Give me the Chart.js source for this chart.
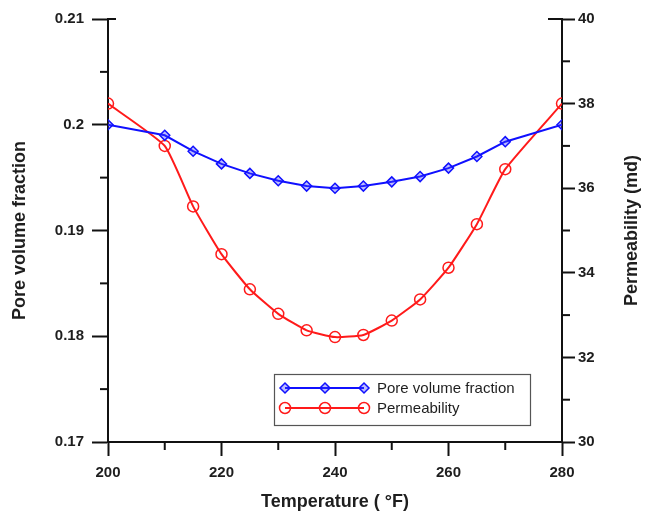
<!DOCTYPE html>
<html>
<head>
<meta charset="utf-8">
<script src="https://cdn.jsdelivr.net/npm/chart.js@4/dist/chart.umd.min.js"></script>
<style>
  html, body { margin: 0; padding: 0; background: #ffffff; }
  #wrap { width: 645px; height: 514px; }
</style>
</head>
<body>
<div id="wrap"><canvas id="c" width="645" height="514"></canvas></div>
<script>
// ---- data ----
const temperature = [200, 210, 215, 220, 225, 230, 235, 240, 245, 250, 255, 260, 265, 270, 280];
const poreVolume = [0.2000, 0.1990, 0.1975, 0.1963, 0.1954, 0.1947, 0.1942, 0.1940, 0.1942, 0.1946, 0.1951, 0.1959, 0.1970, 0.1984, 0.2000];
const permeability = [38.0, 37.0, 35.57, 34.44, 33.61, 33.03, 32.64, 32.48, 32.53, 32.87, 33.37, 34.12, 35.15, 36.45, 38.0];
const seriesLabels = ['Pore volume fraction', 'Permeability'];
const xTickLabels = [200, 220, 240, 260, 280];
const leftTickLabels = ['0.17', '0.18', '0.19', '0.2', '0.21'];
const rightTickLabels = [30, 32, 34, 36, 38, 40];
const xTitle = 'Temperature ( \u00B0F)';
const leftTitle = 'Pore volume fraction';
const rightTitle = 'Permeability (md)';

const BLUE = '#1010ff';
const RED = '#ff1a1a';
const AXIS = '#111111';
const TXT = '#1e1e1e';
const FONT = '"Liberation Sans", Arial, sans-serif';

function isMajorX(v) { return xTickLabels.some(t => Math.abs(t - v) < 1e-6); }
function isMajorL(v) { return leftTickLabels.some(t => Math.abs(parseFloat(t) - v) < 1e-6); }
function isMajorR(v) { return rightTickLabels.some(t => Math.abs(t - v) < 1e-6); }

const extras = {
  id: 'extras',
  afterDraw(chart) {
    const ctx = chart.ctx;
    const area = chart.chartArea;
    const sx = chart.scales.x, sy = chart.scales.y, sr = chart.scales.y1;
    ctx.save();
    ctx.strokeStyle = AXIS;
    ctx.lineWidth = 2;
    // minor ticks
    sx.ticks.forEach(t => {
      if (!isMajorX(t.value)) {
        const px = sx.getPixelForValue(t.value);
        ctx.beginPath(); ctx.moveTo(px, area.bottom); ctx.lineTo(px, area.bottom + 8); ctx.stroke();
      }
    });
    sy.ticks.forEach(t => {
      if (!isMajorL(t.value)) {
        const py = sy.getPixelForValue(t.value);
        ctx.beginPath(); ctx.moveTo(area.left, py); ctx.lineTo(area.left - 8, py); ctx.stroke();
      }
    });
    sr.ticks.forEach(t => {
      if (!isMajorR(t.value)) {
        const py = sr.getPixelForValue(t.value);
        ctx.beginPath(); ctx.moveTo(area.right, py); ctx.lineTo(area.right + 8, py); ctx.stroke();
      }
    });
    // top stubs
    ctx.beginPath(); ctx.moveTo(area.left, area.top); ctx.lineTo(area.left + 8, area.top); ctx.stroke();
    ctx.beginPath(); ctx.moveTo(area.right, area.top); ctx.lineTo(area.right - 14, area.top); ctx.stroke();

    // right title (reads bottom to top)
    ctx.fillStyle = TXT;
    ctx.font = 'bold 18px ' + FONT;
    ctx.textAlign = 'center';
    ctx.textBaseline = 'middle';
    ctx.translate(632, (area.top + area.bottom) / 2);
    ctx.rotate(-Math.PI / 2);
    ctx.fillText(rightTitle, 0, 0);
    ctx.restore();

    // legend box
    ctx.save();
    const bx = 274.5, by = 374.5, bw = 256, bh = 51;
    ctx.strokeStyle = '#555555';
    ctx.lineWidth = 1.2;
    ctx.fillStyle = '#ffffff';
    ctx.fillRect(bx, by, bw, bh);
    ctx.strokeRect(bx, by, bw, bh);
    const rows = [388, 408];
    chart.data.datasets.forEach((ds, i) => {
      const y = rows[i];
      ctx.strokeStyle = ds.borderColor;
      ctx.lineWidth = 2;
      ctx.beginPath(); ctx.moveTo(285, y); ctx.lineTo(364, y); ctx.stroke();
      [285, 325, 364].forEach(mx => {
        ctx.fillStyle = ds.pointBackgroundColor;
        ctx.strokeStyle = ds.pointBorderColor;
        ctx.lineWidth = ds.pointBorderWidth;
        Chart.helpers.drawPoint(ctx, {
          pointStyle: ds.pointStyle, radius: ds.pointRadius, rotation: 0, borderWidth: ds.pointBorderWidth
        }, mx, y);
      });
      ctx.fillStyle = TXT;
      ctx.font = '15px ' + FONT;
      ctx.textAlign = 'left';
      ctx.textBaseline = 'middle';
      ctx.fillText(ds.label, 377, y + 1);
    });
    ctx.restore();
  }
};

const ctxEl = document.getElementById('c');
new Chart(ctxEl, {
  type: 'line',
  data: {
    datasets: [
      {
        label: seriesLabels[0],
        data: temperature.map((t, i) => ({ x: t, y: poreVolume[i] })),
        yAxisID: 'y',
        borderColor: BLUE,
        backgroundColor: BLUE,
        borderWidth: 2,
        pointStyle: 'rectRot',
        pointRadius: 5,
        pointBorderWidth: 1.5,
        pointBackgroundColor: 'rgba(60,60,255,0.35)',
        pointBorderColor: BLUE,
        tension: 0
      },
      {
        label: seriesLabels[1],
        data: temperature.map((t, i) => ({ x: t, y: permeability[i] })),
        yAxisID: 'y1',
        borderColor: RED,
        backgroundColor: RED,
        borderWidth: 2,
        pointStyle: 'circle',
        pointRadius: 5.5,
        pointBorderWidth: 1.5,
        pointBackgroundColor: 'rgba(255,255,255,0)',
        pointBorderColor: RED,
        tension: 0.15
      }
    ]
  },
  options: {
    responsive: false,
    animation: false,
    events: [],
    layout: { padding: { top: 19, left: 0, right: 0, bottom: 0 } },
    plugins: { legend: { display: false }, tooltip: { enabled: false } },
    scales: {
      x: {
        type: 'linear',
        min: 200, max: 280,
        afterFit(s) { s.height = 72; },
        border: { color: AXIS, width: 2 },
        grid: {
          drawOnChartArea: false, tickLength: 14, tickWidth: 2,
          tickColor: c => (c.tick && isMajorX(c.tick.value)) ? AXIS : 'rgba(0,0,0,0)'
        },
        ticks: {
          stepSize: 10, autoSkip: false, maxRotation: 0, padding: 8,
          color: TXT, font: { family: FONT, size: 15, weight: 'bold' },
          callback: v => isMajorX(v) ? String(xTickLabels.find(t => Math.abs(t - v) < 1e-6)) : ''
        },
        title: {
          display: true, text: xTitle, color: TXT, padding: { top: 0, bottom: 1 },
          font: { family: FONT, size: 18, weight: 'bold' }
        }
      },
      y: {
        type: 'linear', position: 'left',
        min: 0.17, max: 0.21,
        afterFit(s) { s.width = 108; },
        border: { color: AXIS, width: 2 },
        grid: {
          drawOnChartArea: false, tickLength: 16, tickWidth: 2,
          tickColor: c => (c.tick && isMajorL(c.tick.value)) ? AXIS : 'rgba(0,0,0,0)'
        },
        ticks: {
          stepSize: 0.005, autoSkip: false, padding: 8,
          color: TXT, font: { family: FONT, size: 15, weight: 'bold' },
          callback: v => isMajorL(v) ? leftTickLabels.find(t => Math.abs(parseFloat(t) - v) < 1e-6) : ''
        },
        title: {
          display: true, text: leftTitle, color: TXT, padding: { top: 9, bottom: 0 },
          font: { family: FONT, size: 18, weight: 'bold' }
        }
      },
      y1: {
        type: 'linear', position: 'right',
        min: 30, max: 40,
        afterFit(s) { s.width = 83; },
        border: { color: AXIS, width: 2 },
        grid: {
          drawOnChartArea: false, tickLength: 13, tickWidth: 2,
          tickColor: c => (c.tick && isMajorR(c.tick.value)) ? AXIS : 'rgba(0,0,0,0)'
        },
        ticks: {
          stepSize: 1, autoSkip: false, padding: 3,
          color: TXT, font: { family: FONT, size: 15, weight: 'bold' },
          callback: v => isMajorR(v) ? String(rightTickLabels.find(t => Math.abs(t - v) < 1e-6)) : ''
        }
      }
    }
  },
  plugins: [extras]
});
</script>
</body>
</html>
